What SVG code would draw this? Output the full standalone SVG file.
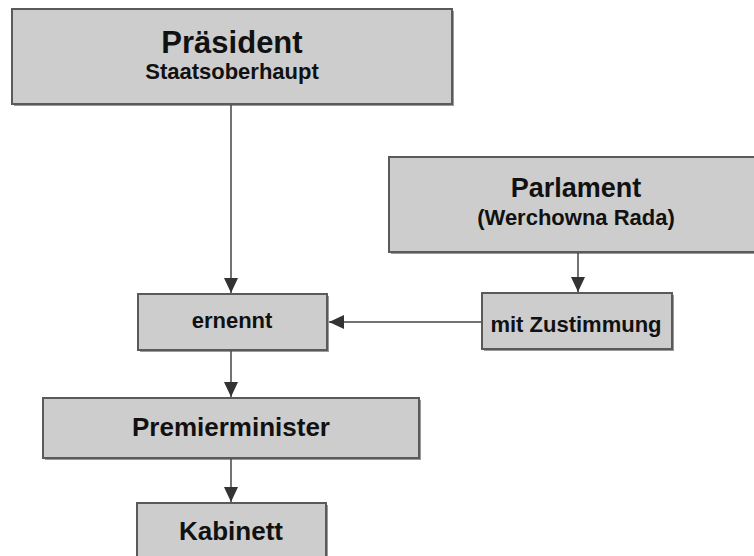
<svg xmlns="http://www.w3.org/2000/svg" width="754" height="556" viewBox="0 0 754 556">
<style>
.box{fill:#cdcdcd;stroke:#5a5a5a;stroke-width:2}
.sh{fill:#9a9a9a}
text{font-family:"Liberation Sans",Arial,sans-serif;font-weight:bold;fill:#111;text-anchor:middle}
.conn{stroke:#444;stroke-width:1.5;fill:none;marker-end:url(#ah)}
</style>
<defs>
<marker id="ah" viewBox="0 0 10 10" refX="10" refY="5" markerWidth="15" markerHeight="14" markerUnits="userSpaceOnUse" orient="auto" preserveAspectRatio="none">
<path d="M0,0 L10,5 L0,10 z" fill="#333"/>
</marker>
</defs>
<rect width="754" height="556" fill="#fff"/>
<g id="praesident">
<rect class="sh" x="14" y="11" width="440" height="95"/>
<rect class="box" x="12" y="9" width="440" height="95"/>
<text x="232" y="53" font-size="31">Präsident</text>
<text x="232" y="79" font-size="22">Staatsoberhaupt</text>
</g>
<g id="parlament">
<rect class="sh" x="391" y="159" width="380" height="95"/>
<rect class="box" x="389" y="157" width="380" height="95"/>
<text x="576" y="197" font-size="27">Parlament</text>
<text x="576" y="225" font-size="22">(Werchowna Rada)</text>
</g>
<g id="zustimmung">
<rect class="sh" x="484" y="295" width="190" height="56"/>
<rect class="box" x="482" y="293" width="190" height="56"/>
<text x="576" y="332" font-size="22">mit Zustimmung</text>
</g>
<g id="ernennt">
<rect class="sh" x="140" y="296" width="189" height="56"/>
<rect class="box" x="138" y="294" width="189" height="56"/>
<text x="232" y="328" font-size="22">ernennt</text>
</g>
<g id="premier">
<rect class="sh" x="45" y="400" width="376" height="60"/>
<rect class="box" x="43" y="398" width="376" height="60"/>
<text x="231" y="436" font-size="26">Premierminister</text>
</g>
<g id="kabinett">
<rect class="sh" x="139" y="505" width="189" height="60"/>
<rect class="box" x="137" y="503" width="189" height="60"/>
<text x="231" y="540" font-size="26">Kabinett</text>
</g>
<g id="connectors">
<path class="conn" d="M231,105 V293"/>
<path class="conn" d="M578,253 V292"/>
<path class="conn" d="M481,322 H329"/>
<path class="conn" d="M231,351 V397"/>
<path class="conn" d="M231,459 V502"/>
</g>
</svg>
